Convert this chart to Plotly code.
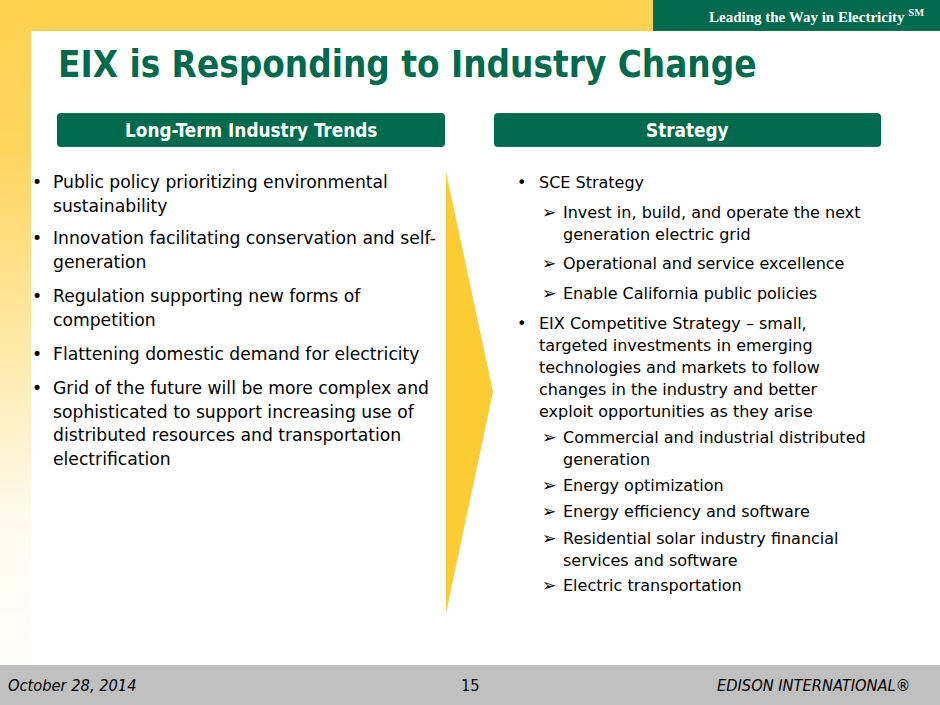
import plotly.graph_objects as go

W, H = 940, 705

title_text = "EIX is Responding to Industry Change"
tagline = "Leading the Way in Electricity <sup>SM</sup>"
header_left = "Long-Term Industry Trends"
header_right = "Strategy"
footer_date = "October 28, 2014"
footer_page = "15"
footer_company = "EDISON INTERNATIONAL®"

# lines of each left bullet
left_bullets = [
    ["Public policy prioritizing environmental", "sustainability"],
    ["Innovation facilitating conservation and self-", "generation"],
    ["Regulation supporting new forms of", "competition"],
    ["Flattening domestic demand for electricity"],
    ["Grid of the future will be more complex and",
     "sophisticated to support increasing use of",
     "distributed resources and transportation",
     "electrification"],
]
left_first_y = [182, 238, 296, 354, 388]

# (level, lines) for right column
right_items = [
    (1, ["SCE Strategy"]),
    (2, ["Invest in, build, and operate the next", "generation electric grid"]),
    (2, ["Operational and service excellence"]),
    (2, ["Enable California public policies"]),
    (1, ["EIX Competitive Strategy – small,",
         "targeted investments in emerging",
         "technologies and markets to follow",
         "changes in the industry and better",
         "exploit opportunities as they arise"]),
    (2, ["Commercial and industrial distributed", "generation"]),
    (2, ["Energy optimization"]),
    (2, ["Energy efficiency and software"]),
    (2, ["Residential solar industry financial", "services and software"]),
    (2, ["Electric transportation"]),
]
right_first_y = [182, 212, 263, 293, 323, 437, 485, 511, 538, 585]

YELLOW = "#FFD24F"
GREEN = "#006A4E"
CHEVRON = "#FFCC33"
GRAY = "#C0C0C0"
BODY_FONT = "DejaVu Sans"
COND = "DejaVu Sans Condensed, DejaVu Sans"
FS_L = 17.2
FS_R = 16.0

fig = go.Figure()

# left gradient strip (yellow fading to near-white toward the bottom)
fig.add_trace(go.Scatter(
    x=[0, 31, 31, 0, 0], y=[0, 0, 665, 665, 0], mode="lines",
    line=dict(width=0), fill="toself", hoverinfo="skip",
    fillgradient=dict(type="vertical",
                      colorscale=[[0, "#FFFEFB"], [0.22, "#FFFAEE"], [0.47, "#FFEAAA"],
                                  [0.77, "#FFD560"], [1, YELLOW]]),
    showlegend=False))

shapes = []
shapes.append(dict(type="rect", x0=31, x1=W, y0=0, y1=31, fillcolor=YELLOW, line_width=0, layer="below"))
shapes.append(dict(type="rect", x0=653, x1=W, y0=0, y1=31, fillcolor=GREEN, line_width=0))
shapes.append(dict(type="rect", x0=0, x1=W, y0=665, y1=H, fillcolor=GRAY, line_width=0))

def rounded(x0, y0, x1, y1, r=4):
    return (f"M{x0+r},{y0} L{x1-r},{y0} Q{x1},{y0} {x1},{y0+r} L{x1},{y1-r} Q{x1},{y1} {x1-r},{y1} "
            f"L{x0+r},{y1} Q{x0},{y1} {x0},{y1-r} L{x0},{y0+r} Q{x0},{y0} {x0+r},{y0} Z")
shapes.append(dict(type="path", path=rounded(57, 113, 445, 147), fillcolor=GREEN, line_width=0))
shapes.append(dict(type="path", path=rounded(494, 113, 881, 147), fillcolor=GREEN, line_width=0))
shapes.append(dict(type="path", path="M446,172 L493,392 L446,613 Z", fillcolor=CHEVRON, line_width=0))

ann = []
ann.append(dict(x=56, y=64, text=f"<b>{title_text}</b>", xanchor="left", yanchor="middle",
                font=dict(family=COND, size=36.5, color=GREEN), showarrow=False))
ann.append(dict(x=926, y=16, text=f"<b>{tagline}</b>", xanchor="right", yanchor="middle",
                font=dict(family="Liberation Serif", size=15, color="white"), showarrow=False))
ann.append(dict(x=251, y=130, text=f"<b>{header_left}</b>", xanchor="center", yanchor="middle",
                font=dict(family=COND, size=18.8, color="white"), showarrow=False))
ann.append(dict(x=687, y=130, text=f"<b>{header_right}</b>", xanchor="center", yanchor="middle",
                font=dict(family=COND, size=18.8, color="white"), showarrow=False))

LH_L = 23.5
for lines, y0 in zip(left_bullets, left_first_y):
    ann.append(dict(x=30, y=y0, text="•", xanchor="left", yanchor="middle",
                    font=dict(family=BODY_FONT, size=FS_L, color="black"), showarrow=False))
    for i, ln in enumerate(lines):
        ann.append(dict(x=51, y=y0 + i * LH_L, text=ln, xanchor="left", yanchor="middle",
                        font=dict(family=BODY_FONT, size=FS_L, color="black"), showarrow=False))

LH_R = 22
for (lvl, lines), y0 in zip(right_items, right_first_y):
    if lvl == 1:
        bx, tx, sym, fs = 515, 537, "•", FS_R
    else:
        bx, tx, sym, fs = 540, 561, "➢", 17
    ann.append(dict(x=bx, y=y0, text=sym, xanchor="left", yanchor="middle",
                    font=dict(family=BODY_FONT, size=fs, color="black"), showarrow=False))
    for i, ln in enumerate(lines):
        ann.append(dict(x=tx, y=y0 + i * LH_R, text=ln, xanchor="left", yanchor="middle",
                        font=dict(family=BODY_FONT, size=FS_R, color="black"), showarrow=False))

ann.append(dict(x=6, y=685, text=f"<i>{footer_date}</i>", xanchor="left", yanchor="middle",
                font=dict(family=COND, size=16.3, color="black"), showarrow=False))
ann.append(dict(x=470, y=685, text=footer_page, xanchor="center", yanchor="middle",
                font=dict(family=COND, size=16.3, color="black"), showarrow=False))
ann.append(dict(x=912, y=685, text=f"<i>{footer_company}</i>", xanchor="right", yanchor="middle",
                font=dict(family=COND, size=16.3, color="black"), showarrow=False))

fig.update_layout(
    width=W, height=H, margin=dict(l=0, r=0, t=0, b=0),
    paper_bgcolor="white", plot_bgcolor="white",
    xaxis=dict(range=[0, W], visible=False, fixedrange=True),
    yaxis=dict(range=[H, 0], visible=False, fixedrange=True),
    shapes=shapes, annotations=ann, showlegend=False,
)
fig.write_html("out.html", post_script="document.body.style.margin='0';document.body.style.overflow='hidden';",
               config={"displayModeBar": False})
